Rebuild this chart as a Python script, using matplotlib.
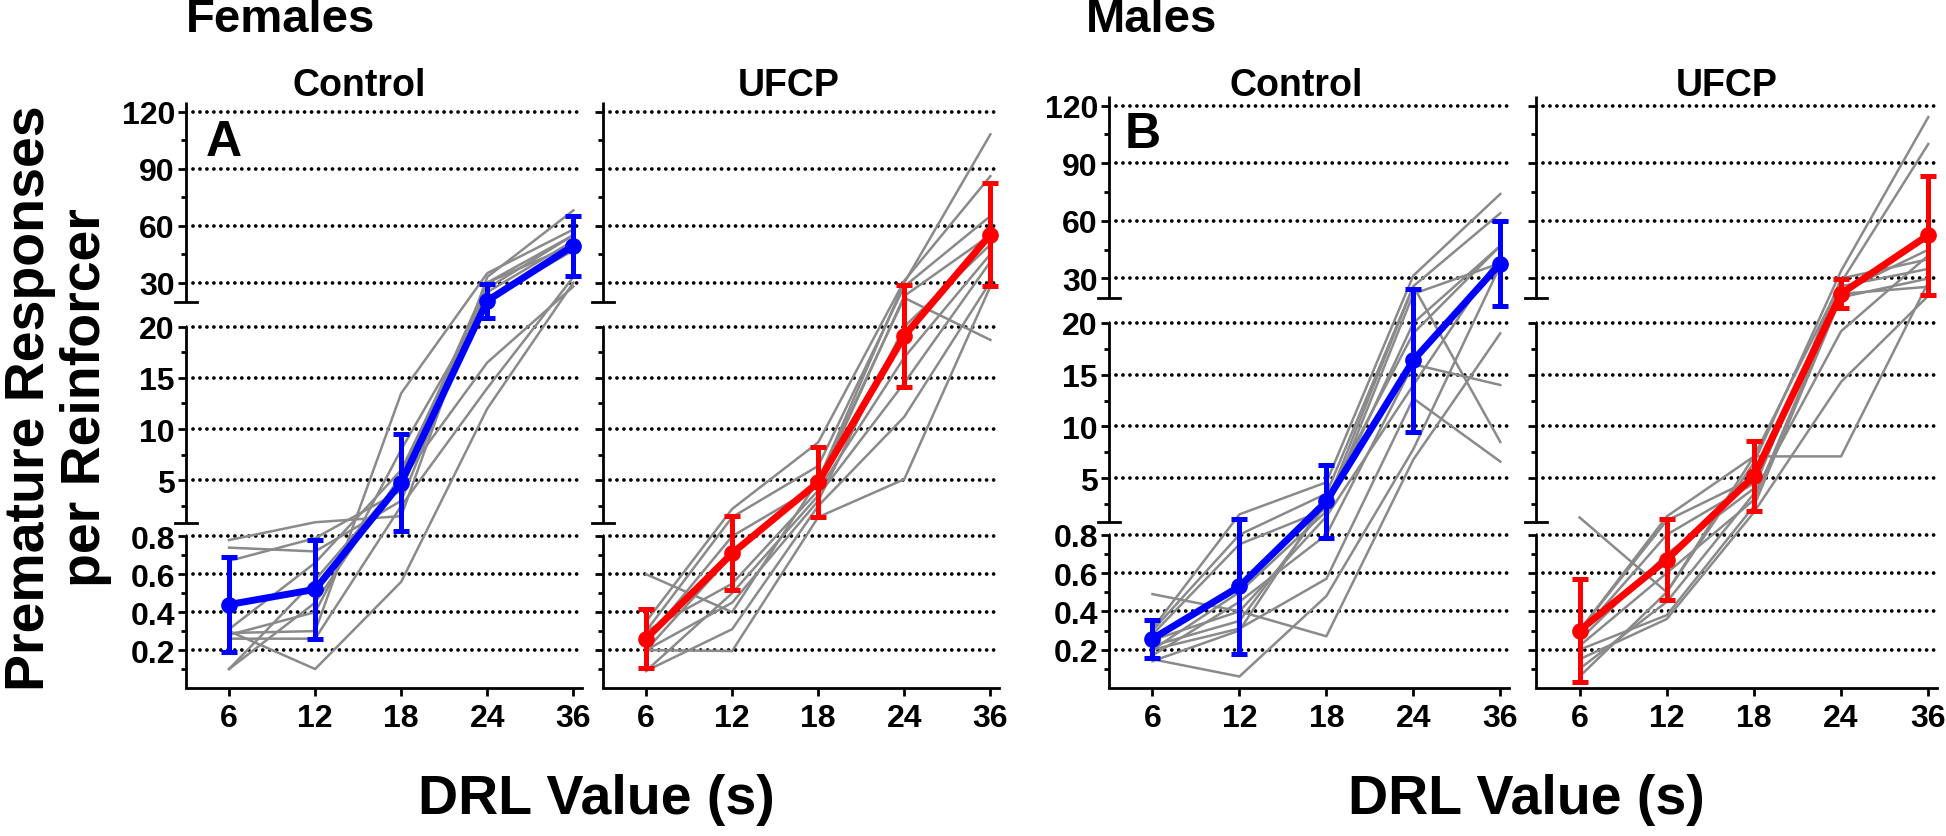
import numpy as np
import matplotlib
matplotlib.use('Agg')
import matplotlib.pyplot as plt

plt.rcParams['font.family'] = ['Liberation Sans', 'DejaVu Sans']
plt.rcParams['font.weight'] = 'bold'

W, H = 1946, 837

DRL = ['6', '12', '18', '24', '36']

# means / SD
fem_ctrl_mean = [0.44, 0.52, 4.77, 20.5, 49.4]
fem_ctrl_sd = [0.25, 0.26, 4.75, 8.9, 15.7]
fem_ufcp_mean = [0.26, 0.71, 4.8, 19.1, 55.3]
fem_ufcp_sd = [0.155, 0.195, 3.4, 5.0, 27.0]
male_ctrl_mean = [0.257, 0.53, 2.75, 16.4, 37.8]
male_ctrl_sd = [0.10, 0.35, 3.5, 6.9, 22.0]
male_ufcp_mean = [0.30, 0.67, 5.2, 22.1, 52.6]
male_ufcp_sd = [0.27, 0.21, 3.4, 7.5, 31.0]

# individual animals (grey lines)
fem_ctrl_subj = [
    [0.78, 0.90, 1.5, 33.0, 68.0],
    [0.74, 0.72, 3.0, 27.0, 55.0],
    [0.67, 0.79, 4.0, 30.0, 50.0],
    [0.31, 0.66, 6.0, 25.0, 52.0],
    [0.29, 0.30, 13.5, 35.0, 58.0],
    [0.28, 0.40, 8.0, 21.0, 47.0],
    [0.26, 0.26, 2.5, 14.0, 33.0],
    [0.10, 0.57, 5.0, 16.5, 28.0],
    [0.30, 0.10, 0.56, 12.0, 30.0],
    [0.10, 0.45, 5.5, 30.0, 55.0],
]
fem_ufcp_subj = [
    [0.60, 0.40, 5.0, 30.0, 108.0],
    [0.35, 2.2, 8.7, 31.0, 86.0],
    [0.30, 1.4, 6.4, 28.0, 65.0],
    [0.25, 0.80, 4.5, 23.0, 55.0],
    [0.20, 0.70, 5.0, 22.0, 18.7],
    [0.09, 0.50, 3.5, 14.5, 41.0],
    [0.09, 0.31, 2.5, 11.2, 30.5],
    [0.20, 0.195, 1.4, 5.1, 28.0],
    [0.30, 0.55, 4.0, 17.0, 45.0],
    [0.20, 0.45, 3.0, 20.0, 50.0],
]
male_ctrl_subj = [
    [0.49, 0.40, 0.27, 6.8, 19.0],
    [0.31, 1.5, 4.6, 31.5, 74.0],
    [0.30, 0.80, 3.5, 26.0, 64.0],
    [0.28, 0.75, 2.0, 20.0, 47.0],
    [0.25, 0.40, 1.3, 14.0, 42.0],
    [0.22, 0.35, 2.5, 26.0, 8.5],
    [0.20, 0.31, 0.57, 12.7, 6.6],
    [0.17, 0.45, 0.80, 16.0, 14.0],
    [0.15, 0.06, 0.48, 7.8, 36.7],
    [0.14, 0.30, 3.0, 19.0, 47.0],
    [0.20, 0.50, 1.8, 22.0, 38.0],
]
male_ufcp_subj = [
    [1.2, 0.50, 6.5, 34.0, 114.0],
    [0.30, 1.3, 7.1, 28.0, 100.0],
    [0.30, 0.90, 5.0, 23.0, 45.0],
    [0.25, 0.70, 4.0, 30.0, 40.0],
    [0.22, 0.60, 2.9, 22.0, 25.7],
    [0.20, 0.38, 2.3, 20.2, 30.0],
    [0.15, 0.36, 1.7, 14.3, 21.0],
    [0.06, 0.50, 7.1, 7.1, 28.0],
    [0.10, 0.45, 3.5, 19.2, 42.0],
    [0.28, 0.80, 4.5, 26.0, 35.0],
]

major_ticks = [0.2, 0.4, 0.6, 0.8, 5, 10, 15, 20, 30, 60, 90, 120]
major_labels = ['0.2', '0.4', '0.6', '0.8', '5', '10', '15', '20', '30', '60', '90', '120']
minor_ticks = [0.1, 0.3, 0.5, 0.7, 2.5, 7.5, 12.5, 17.5, 45, 75, 105]

# segmented (broken) y axis: value -> display units
SEG_V = [0, 0.8, 0.8 + 1e-6, 20, 20 + 1e-6, 125]
SEG_D = [0, 152, 165, 362, 387, 587]


def fwd(v):
    return np.interp(v, SEG_V, SEG_D)


def inv(d):
    return np.interp(d, SEG_D, SEG_V)


def slope(v):
    if v <= 0.8:
        return 152 / 0.8
    elif v <= 20:
        return (362 - 165) / 19.2
    return (587 - 387) / 105.0


def bar_ends(mean, sd):
    lo, hi = [], []
    for m, s in zip(mean, sd):
        d = fwd(m)
        lo.append(m - inv(d - s * slope(m)))
        hi.append(inv(d + s * slope(m)) - m)
    return [lo, hi]


def fig_ax(x0, y0, x1, y1):
    return fig.add_axes([x0 / W, 1 - y1 / H, (x1 - x0) / W, (y1 - y0) / H])


fig = plt.figure(figsize=(W / 100, H / 100), dpi=100)


def panel(box, subj, mean, sd, color, labels):
    ax = fig_ax(*box)
    ax.set_yscale('function', functions=(fwd, inv))
    ax.set_ylim(0, 125)
    ax.set_xlim(-0.5, 4.1)
    x = np.arange(len(DRL))

    for v in major_ticks:
        ax.axhline(v, color='black', lw=2.7, ls=(0, (0.01, 1.85)),
                   dash_capstyle='round', zorder=1)

    for s in subj:
        ax.plot(x, s, color='#8a8a8a', lw=1.8, zorder=2)

    ax.errorbar(x, mean, yerr=bar_ends(mean, sd), color=color, lw=5,
                marker='o', ms=11, elinewidth=3.6, capsize=5.5, capthick=3.6,
                zorder=4)

    ax.spines['top'].set_visible(False)
    ax.spines['right'].set_visible(False)
    ax.spines['left'].set_visible(False)
    ax.spines['bottom'].set_linewidth(2)

    # broken left spine
    yt = ax.get_yaxis_transform()
    half = 11.0 / (box[2] - box[0])
    for a, b in [(0, 0.8), (inv(165), 20), (inv(387), 125)]:
        ax.plot([0, 0], [a, b], color='black', lw=2, transform=yt,
                clip_on=False, solid_capstyle='butt', zorder=5)
    for c in [inv(165), inv(387)]:
        ax.plot([-half, half], [c, c], color='black', lw=2, transform=yt,
                clip_on=False, zorder=5)

    ax.set_yticks(major_ticks)
    ax.set_yticks(minor_ticks, minor=True)
    if labels:
        ax.set_yticklabels(major_labels)
    else:
        ax.set_yticklabels([])
    ax.tick_params(axis='y', which='major', length=6, width=2, pad=2,
                   labelsize=23)
    ax.tick_params(axis='y', which='minor', length=3.5, width=2)
    ax.set_xticks(x)
    ax.set_xticklabels(DRL)
    ax.tick_params(axis='x', length=6, width=2, pad=5, labelsize=23)
    ax.patch.set_alpha(0)
    return ax


panel((186, 103, 582, 689), fem_ctrl_subj, fem_ctrl_mean, fem_ctrl_sd, '#0000ff', True)
panel((603, 103, 999, 689), fem_ufcp_subj, fem_ufcp_mean, fem_ufcp_sd, '#ff0000', False)
panel((1109, 97, 1509, 689), male_ctrl_subj, male_ctrl_mean, male_ctrl_sd, '#0000ff', True)
panel((1536, 97, 1937, 689), male_ufcp_subj, male_ufcp_mean, male_ufcp_sd, '#ff0000', False)


def ftext(x, y, s, **kw):
    fig.text(x / W, 1 - y / H, s, fontweight='bold', **kw)


ftext(281, 20, 'Females', fontsize=34, ha='center', va='center')
ftext(1152, 20, 'Males', fontsize=34, ha='center', va='center')
ftext(359, 86, 'Control', fontsize=27, ha='center', va='center')
ftext(789, 86, 'UFCP', fontsize=27, ha='center', va='center')
ftext(1296, 86, 'Control', fontsize=27, ha='center', va='center')
ftext(1727, 86, 'UFCP', fontsize=27, ha='center', va='center')
ftext(206, 143, 'A', fontsize=36, ha='left', va='center')
ftext(1125, 135, 'B', fontsize=36, ha='left', va='center')
ftext(58, 398, 'Premature Responses\nper Reinforcer', fontsize=40,
      rotation=90, ha='center', va='center', multialignment='center',
      linespacing=1.1)
ftext(596, 814, 'DRL Value (s)', fontsize=40, ha='center', va='baseline')
ftext(1526, 814, 'DRL Value (s)', fontsize=40, ha='center', va='baseline')

fig.savefig('out.png', dpi=100)
